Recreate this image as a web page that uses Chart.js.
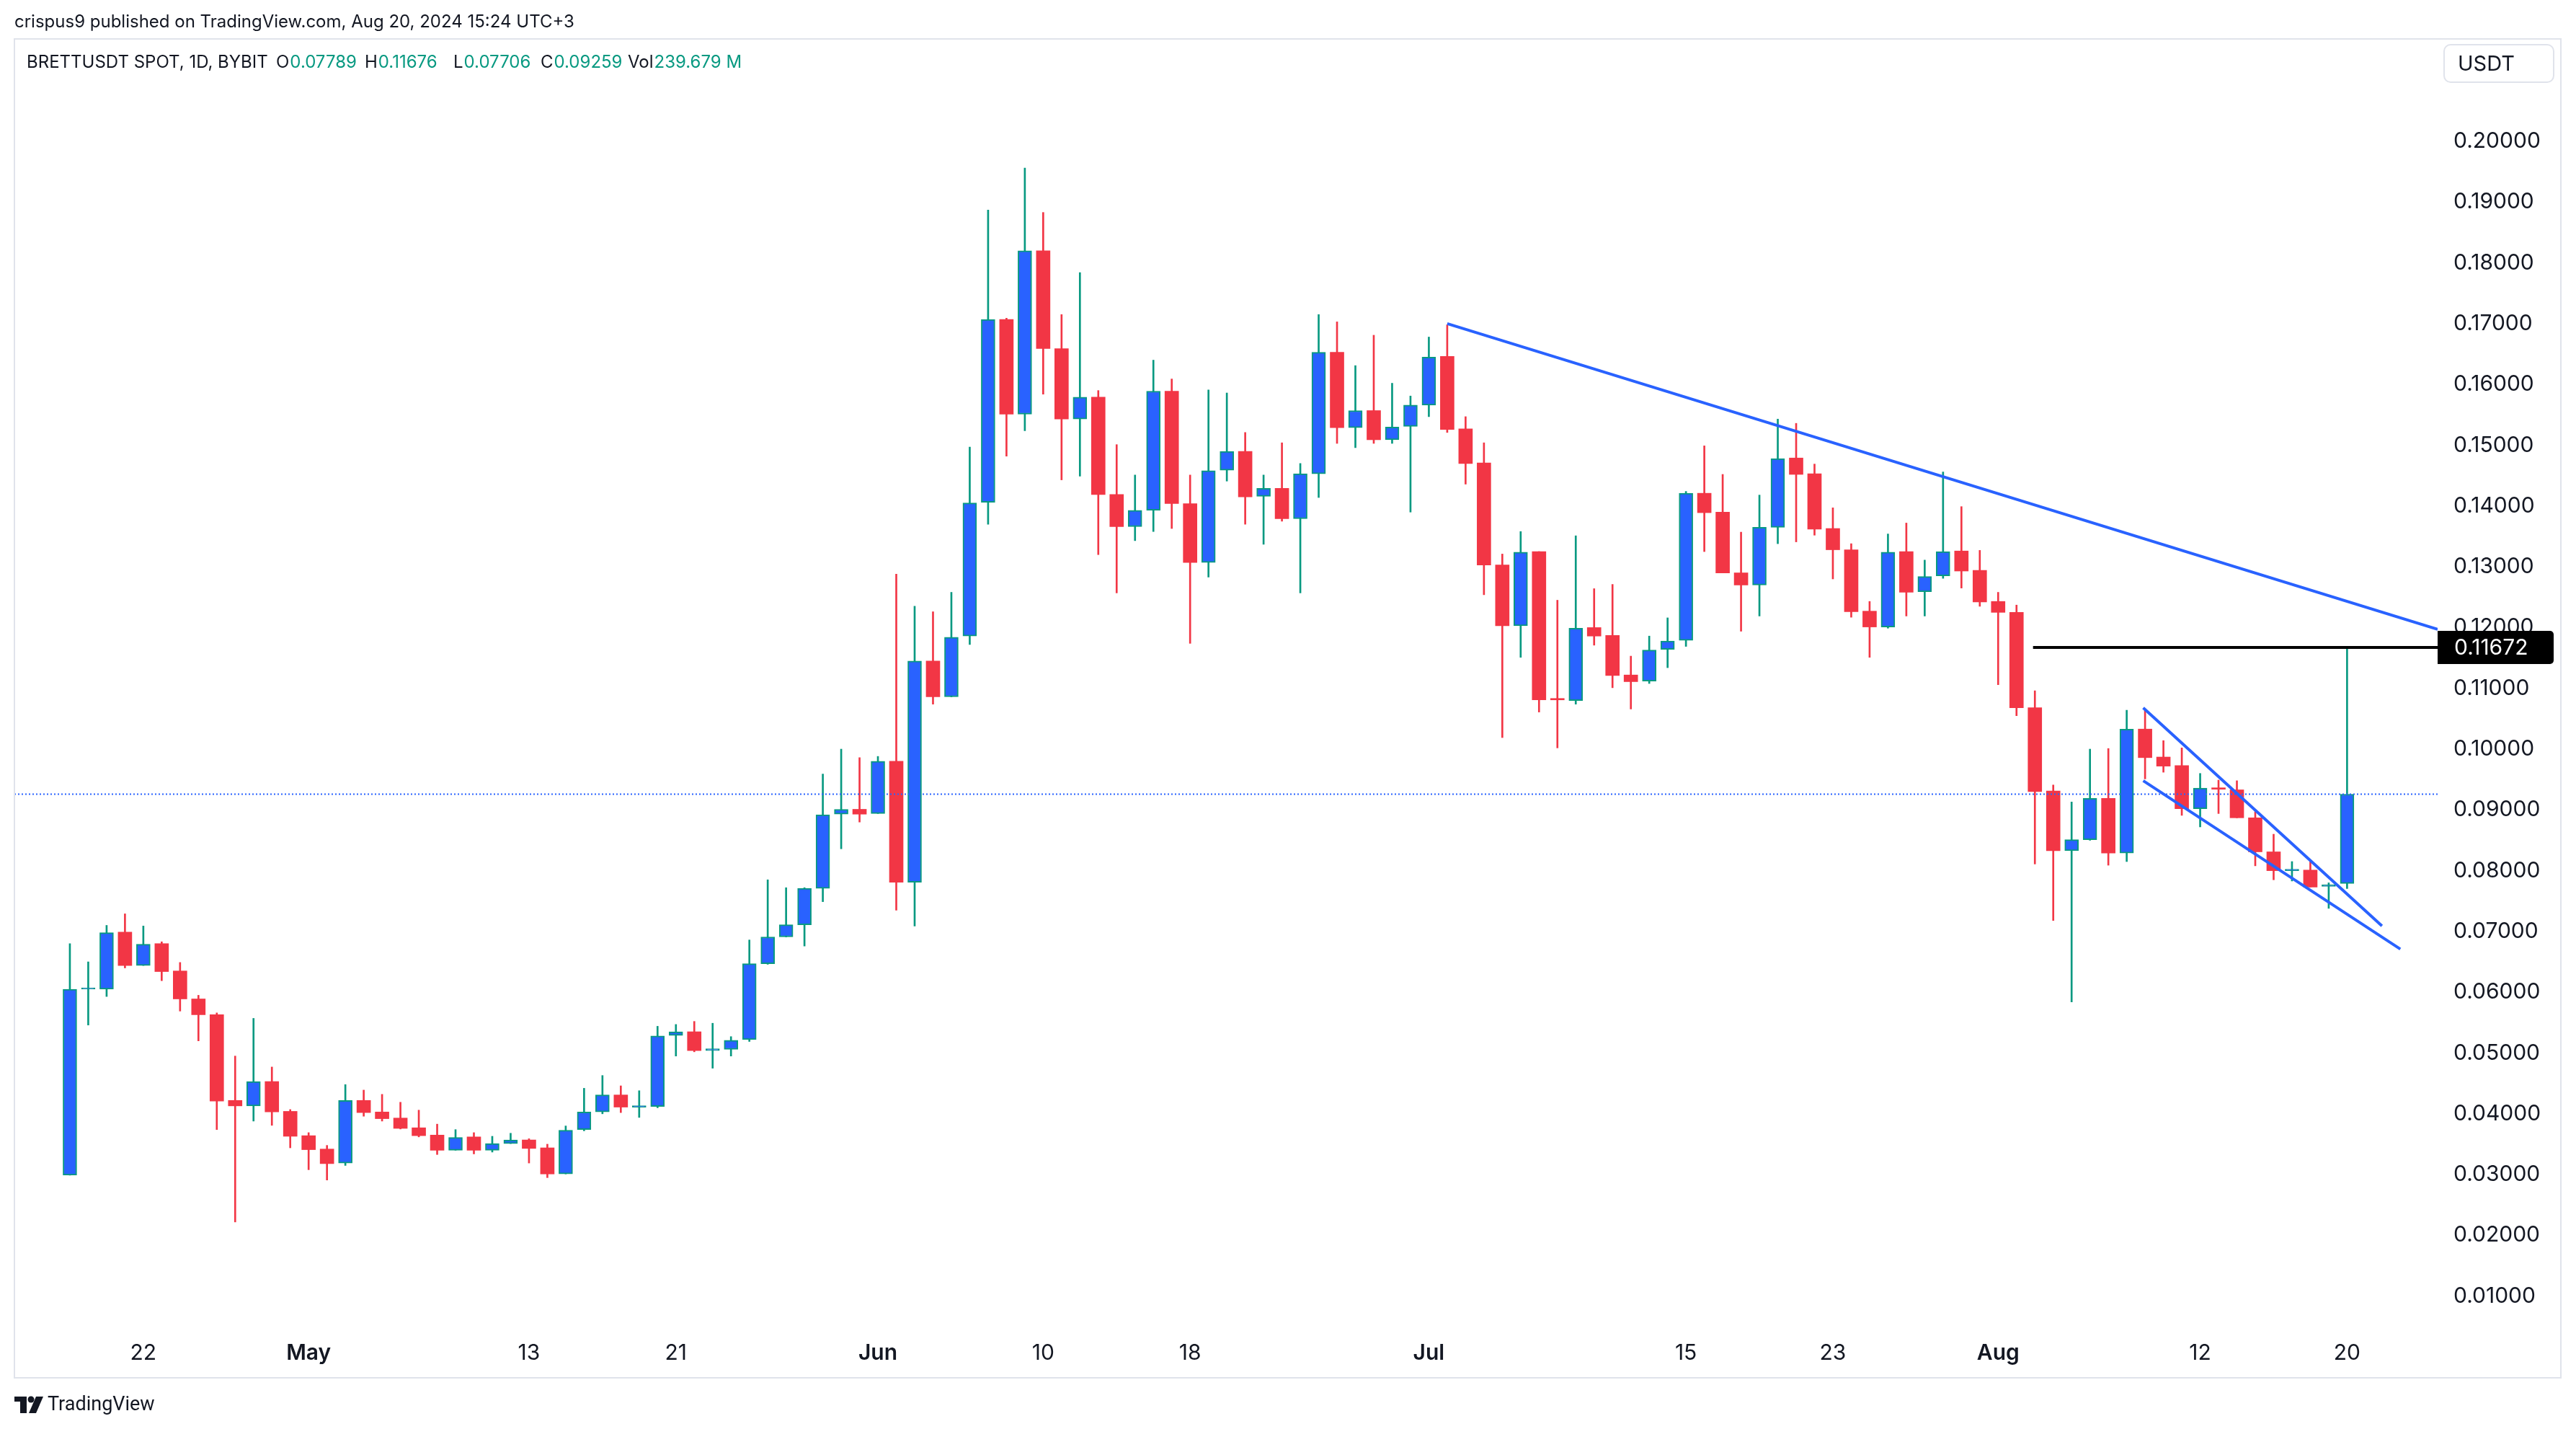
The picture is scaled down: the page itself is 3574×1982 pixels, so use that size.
<!DOCTYPE html>
<html>
<head>
<meta charset="utf-8">
<script src="https://cdn.jsdelivr.net/npm/chart.js@4.4.1/dist/chart.umd.min.js"></script>
<style>
  html, body { margin: 0; padding: 0; background: #fff; }
  canvas { display: block; }
</style>
</head>
<body>
<canvas id="chart" width="3574" height="1982"></canvas>
<script>
// BRETTUSDT daily candles, Apr 18 -> Aug 20 2024 (index 0 = Apr 18)
const opens = [
  0.0299,0.0605,0.0605,0.0699,0.0644,0.0680,0.0635,0.0589,0.0563,0.0422,
  0.0413,0.0453,0.0404,0.0364,0.0342,0.0319,0.0422,0.0403,0.0393,0.0377,
  0.0365,0.0340,0.0362,0.0340,0.0351,0.0357,0.0344,0.0301,0.0374,0.0403,
  0.0431,0.0411,0.0412,0.0529,0.0535,0.0504,0.0506,0.0522,0.0647,0.0691,
  0.0711,0.0771,0.0893,0.0901,0.0894,0.0980,0.0781,0.1145,0.1086,0.1186,
  0.1406,0.1707,0.1551,0.1820,0.1659,0.1543,0.1579,0.1419,0.1366,0.1393,
  0.1589,0.1404,0.1307,0.1459,0.1490,0.1416,0.1429,0.1379,0.1453,0.1653,
  0.1529,0.1557,0.1509,0.1531,0.1566,0.1646,0.1527,0.1471,0.1303,0.1203,
  0.1325,0.1082,0.1080,0.1200,0.1187,0.1122,0.1112,0.1164,0.1179,0.1421,
  0.1390,0.1290,0.1270,0.1365,0.1479,0.1453,0.1363,0.1328,0.1227,0.1201,
  0.1325,0.1259,0.1285,0.1326,0.1294,0.1243,0.1225,0.1068,0.0931,0.0833,
  0.0851,0.0919,0.0829,0.1033,0.0987,0.0973,0.0902,0.0936,0.0933,0.0887,
  0.0831,0.0800,0.0801,0.0774,0.07789
];
const highs = [
  0.0680,0.0650,0.0710,0.0729,0.0709,0.0683,0.0649,0.0595,0.0566,0.0495,
  0.0557,0.0477,0.0407,0.0369,0.0348,0.0448,0.0439,0.0432,0.0419,0.0406,
  0.0383,0.0374,0.0369,0.0363,0.0368,0.0359,0.0350,0.0380,0.0442,0.0463,
  0.0446,0.0438,0.0544,0.0547,0.0552,0.0549,0.0527,0.0686,0.0785,0.0772,
  0.0772,0.0959,0.1000,0.0986,0.0988,0.1288,0.1235,0.1226,0.1258,0.1497,
  0.1887,0.1709,0.1956,0.1883,0.1715,0.1784,0.1590,0.1501,0.1451,0.1640,
  0.1609,0.1451,0.1591,0.1586,0.1521,0.1451,0.1504,0.1470,0.1715,0.1703,
  0.1631,0.1681,0.1602,0.1581,0.1678,0.1698,0.1547,0.1504,0.1321,0.1358,
  0.1325,0.1245,0.1351,0.1264,0.1271,0.1153,0.1186,0.1216,0.1424,0.1499,
  0.1452,0.1357,0.1418,0.1543,0.1536,0.1469,0.1397,0.1338,0.1243,0.1354,
  0.1372,0.1311,0.1456,0.1399,0.1327,0.1258,0.1237,0.1096,0.0941,0.0913,
  0.1000,0.1001,0.1064,0.1065,0.1014,0.1002,0.0960,0.0949,0.0948,0.0897,
  0.0860,0.0815,0.0815,0.0780,0.11676
];
const lows = [
  0.0299,0.0546,0.0593,0.0640,0.0644,0.0619,0.0569,0.0520,0.0374,0.0222,
  0.0388,0.0381,0.0344,0.0308,0.0291,0.0315,0.0396,0.0388,0.0375,0.0362,
  0.0333,0.0340,0.0334,0.0337,0.0351,0.0319,0.0295,0.0301,0.0372,0.0400,
  0.0402,0.0394,0.0410,0.0495,0.0502,0.0475,0.0495,0.0519,0.0646,0.0691,
  0.0676,0.0749,0.0836,0.0880,0.0894,0.0735,0.0709,0.1074,0.1086,0.1172,
  0.1370,0.1482,0.1524,0.1584,0.1443,0.1449,0.1320,0.1257,0.1343,0.1358,
  0.1363,0.1174,0.1283,0.1441,0.1370,0.1337,0.1375,0.1257,0.1414,0.1503,
  0.1496,0.1503,0.1503,0.1390,0.1547,0.1521,0.1436,0.1254,0.1019,0.1151,
  0.1061,0.1002,0.1074,0.1171,0.1101,0.1066,0.1108,0.1134,0.1169,0.1325,
  0.1290,0.1194,0.1219,0.1338,0.1341,0.1352,0.1280,0.1217,0.1151,0.1199,
  0.1219,0.1219,0.1281,0.1265,0.1235,0.1106,0.1055,0.0811,0.0718,0.0584,
  0.0850,0.0809,0.0815,0.0951,0.0962,0.0891,0.0872,0.0894,0.0887,0.0808,
  0.0785,0.0783,0.0773,0.0738,0.07706
];
const closes = [
  0.0605,0.0607,0.0698,0.0644,0.0679,0.0634,0.0589,0.0563,0.0421,0.0413,
  0.0453,0.0403,0.0363,0.0341,0.0318,0.0422,0.0402,0.0392,0.0376,0.0364,
  0.0340,0.0361,0.0340,0.0351,0.0357,0.0343,0.0301,0.0373,0.0403,0.0431,
  0.0411,0.0413,0.0528,0.0535,0.0504,0.0507,0.0521,0.0647,0.0691,0.0711,
  0.0771,0.0892,0.0901,0.0893,0.0980,0.0781,0.1145,0.1086,0.1184,0.1405,
  0.1707,0.1551,0.1820,0.1659,0.1543,0.1579,0.1419,0.1366,0.1393,0.1589,
  0.1404,0.1307,0.1458,0.1490,0.1415,0.1429,0.1379,0.1453,0.1653,0.1529,
  0.1557,0.1509,0.1530,0.1566,0.1645,0.1526,0.1470,0.1303,0.1203,0.1324,
  0.1081,0.1081,0.1199,0.1186,0.1121,0.1111,0.1163,0.1178,0.1421,0.1389,
  0.1290,0.1270,0.1365,0.1478,0.1452,0.1362,0.1328,0.1226,0.1201,0.1324,
  0.1258,0.1284,0.1325,0.1293,0.1242,0.1225,0.1068,0.0930,0.0833,0.0851,
  0.0919,0.0829,0.1033,0.0986,0.0972,0.0902,0.0936,0.0934,0.0887,0.0831,
  0.0800,0.0802,0.0773,0.0777,0.09259
];

// axis ticks
const xTickDays   = [4, 13, 25, 33, 44, 53, 61, 74, 88, 96, 105, 116, 124];
const xTickLabels = ['22','May','13','21','Jun','10','18','Jul','15','23','Aug','12','20'];
const monthTicks  = ['May','Jun','Jul','Aug'];
const yTicks = [0.01,0.02,0.03,0.04,0.05,0.06,0.07,0.08,0.09,0.10,
                0.11,0.12,0.13,0.14,0.15,0.16,0.17,0.18,0.19,0.20];

// drawings (day index, price)
const trendX = [75, 128.93],   trendY = [0.1700, 0.1197];
const wedgeTopX = [112.9, 125.9], wedgeTopY = [0.1068, 0.0709];
const wedgeBotX = [112.9, 126.9], wedgeBotY = [0.0948, 0.0671];
const levelX = [106.9, 128.93], levelPrice = 0.11672;
const lastPrice = 0.09259;

const X_MIN = -3.02, X_MAX = 128.93;
const Y_MIN = 0.00534, Y_MAX = 0.21673;

const UP_FILL = '#2962ff', UP_EDGE = '#089981', DOWN = '#f23645';
const TEXT = '#131722';
const FONT = "Inter, 'Noto Sans', sans-serif";
const FOOT_FONT = "Roboto, 'Noto Sans', sans-serif";

const isUp = opens.map((o, i) => closes[i] >= o);

const toLine = (xs, ys) => xs.map((x, i) => ({ x, y: Array.isArray(ys) ? ys[i] : ys }));

const decor = {
  id: 'decor',
  beforeDraw(chart) {
    const c = chart.ctx;
    c.save();
    c.fillStyle = '#fff';
    c.fillRect(0, 0, chart.width, chart.height);
    c.restore();
  },
  afterDraw(chart) {
    const c = chart.ctx;
    const y = chart.scales.y;
    c.save();

    // frame
    c.strokeStyle = '#e0e3eb';
    c.lineWidth = 2;
    c.strokeRect(20, 54, 3533, 1857);

    // published line
    c.fillStyle = TEXT;
    c.textBaseline = 'middle';
    c.textAlign = 'left';
    c.font = `24px ${FONT}`;
    c.fillText('crispus9 published on TradingView.com, Aug 20, 2024 15:24 UTC+3', 20, 31);

    // symbol header
    c.font = `24px ${FONT}`;
    c.fillText('BRETTUSDT SPOT, 1D, BYBIT', 37, 87);
    const parts = [['O', '0.07789', 383], ['H', '0.11676', 506], ['L', '0.07706', 629],
                   ['C', '0.09259', 750], ['Vol', '239.679 M', 871]];
    parts.forEach(([k, v, px]) => {
      c.fillStyle = TEXT;
      c.fillText(k, px, 87);
      const w = c.measureText(k).width;
      c.fillStyle = UP_EDGE;
      c.fillText(v, px + w + 1, 87);
    });

    // currency box
    c.strokeStyle = '#e0e3eb';
    c.lineWidth = 2;
    c.beginPath();
    c.roundRect(3391, 62, 152, 52, 9);
    c.stroke();
    c.fillStyle = TEXT;
    c.font = `29px ${FONT}`;
    c.fillText('USDT', 3410, 89);

    // level price label
    const ly = y.getPixelForValue(levelPrice);
    c.fillStyle = '#000';
    c.beginPath();
    c.roundRect(3382, ly - 23, 161, 46, [0, 5, 5, 0]);
    c.fill();
    c.fillStyle = '#fff';
    c.font = `30px ${FONT}`;
    c.fillText(levelPrice.toFixed(5), 3405, ly + 1);

    // footer logo
    c.fillStyle = TEXT;
    c.fillRect(20, 1937, 17, 7);
    c.fillRect(28, 1937, 9, 23);
    c.beginPath();
    c.arc(43, 1941, 4.5, 0, Math.PI * 2);
    c.fill();
    c.beginPath();
    c.moveTo(50, 1937); c.lineTo(60, 1937); c.lineTo(50, 1960); c.lineTo(40, 1960);
    c.closePath();
    c.fill();
    c.font = `27px ${FOOT_FONT}`;
    c.fillText('TradingView', 66, 1949);

    c.restore();
  }
};

new Chart(document.getElementById('chart'), {
  type: 'bar',
  data: {
    datasets: [
      {
        type: 'line', label: 'trend', data: toLine(trendX, trendY),
        borderColor: '#2962ff', borderWidth: 4, pointRadius: 0, order: 0
      },
      {
        type: 'line', label: 'wedgeTop', data: toLine(wedgeTopX, wedgeTopY),
        borderColor: '#2962ff', borderWidth: 4, pointRadius: 0, order: 0
      },
      {
        type: 'line', label: 'wedgeBottom', data: toLine(wedgeBotX, wedgeBotY),
        borderColor: '#2962ff', borderWidth: 4, pointRadius: 0, order: 0
      },
      {
        type: 'line', label: 'level', data: toLine(levelX, levelPrice),
        borderColor: '#000', borderWidth: 4, pointRadius: 0, order: 0
      },
      {
        type: 'line', label: 'last', data: toLine([X_MIN, X_MAX], lastPrice),
        borderColor: '#2962ff', borderWidth: 2, borderDash: [2, 3], pointRadius: 0, order: 0
      },
      {
        label: 'body',
        data: opens.map((o, i) => ({ x: i, y: [o, closes[i]] })),
        backgroundColor: isUp.map(u => u ? UP_FILL : DOWN),
        borderColor: isUp.map(u => u ? UP_EDGE : DOWN),
        borderWidth: isUp.map(u => u ? 2 : 0),
        borderSkipped: false,
        barThickness: 19,
        minBarLength: 2,
        grouped: false,
        order: 1
      },
      {
        label: 'wick',
        data: lows.map((l, i) => ({ x: i, y: [l, highs[i]] })),
        backgroundColor: isUp.map(u => u ? UP_EDGE : DOWN),
        borderWidth: 0,
        barThickness: 2,
        grouped: false,
        order: 2
      }
    ]
  },
  options: {
    responsive: false,
    animation: false,
    devicePixelRatio: 1,
    layout: { padding: { left: 20, top: 55, right: 24, bottom: 72 } },
    plugins: { legend: { display: false }, tooltip: { enabled: false } },
    scales: {
      x: {
        type: 'linear', min: X_MIN, max: X_MAX, offset: false,
        grid: { display: false, drawTicks: false },
        border: { display: false },
        afterBuildTicks: s => { s.ticks = xTickDays.map(v => ({ value: v })); },
        afterFit: s => { s.height = 73; },
        ticks: {
          autoSkip: false, maxRotation: 0, padding: 22, color: TEXT,
          callback: v => xTickLabels[xTickDays.indexOf(v)],
          font: ctx => ({
            family: FONT, size: 30,
            weight: ctx.tick && monthTicks.includes(xTickLabels[xTickDays.indexOf(ctx.tick.value)]) ? '600' : '400'
          })
        }
      },
      y: {
        type: 'linear', position: 'right', min: Y_MIN, max: Y_MAX,
        grid: { display: false, drawTicks: false },
        border: { display: false },
        afterBuildTicks: s => { s.ticks = yTicks.map(v => ({ value: v })); },
        afterFit: s => { s.width = 168; },
        ticks: {
          padding: 22, color: TEXT, crossAlign: 'near',
          font: { family: FONT, size: 30 },
          callback: v => v.toFixed(5)
        }
      }
    }
  },
  plugins: [decor]
});
</script>
</body>
</html>
